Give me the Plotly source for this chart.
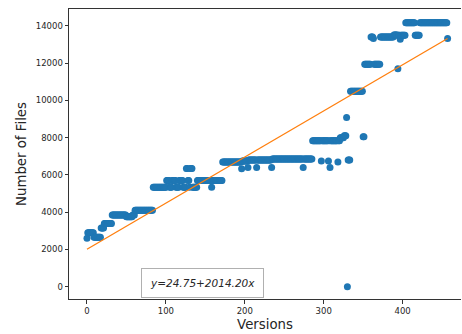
import numpy as np
import plotly.graph_objects as go

# Run-length description of file counts per version
levels = [2600, 2900, 2650, 3150, 3400, 3850, 3750, 3850, 4100,
          5340,
          5700, 5340, 5700, 5340, 5700, 5340, 6350, 5700, 5340, 6350, 5340,
          5700, 5340, 5700,
          6700, 6330, 6750, 6400, 6800, 6400, 6800, 6400, 6850, 6400, 6850,
          7840, 6750, 7840, 6750, 7840, 6400, 7840, 6700, 7840,
          8000, 8100, 9080, 0, 6800, 10500, 8050, 11950, 13400, 13330, 11950,
          13400, 13520, 11700, 13500, 13280, 13500, 14170, 13500, 14170, 13330]
counts = [1, 8, 9, 4, 10, 18, 8, 3, 23,
          17,
          4, 3, 5, 4, 5, 4, 2, 2, 1, 3, 6,
          18, 1, 13,
          24, 1, 7, 1, 10, 1, 18, 1, 39, 1, 11,
          11, 1, 8, 1, 1, 1, 9, 1, 2,
          5, 3, 1, 1, 3, 16, 2, 8, 3, 1, 8,
          17, 5, 1, 2, 1, 6, 12, 6, 35, 1]

files = np.repeat(levels, counts)
versions = np.arange(len(files))

# Fitted line coefficients shown in the label
slope = 24.75
intercept = 2014.20
fit = intercept + slope * versions

fig = go.Figure()
fig.add_trace(go.Scatter(x=versions, y=files, mode="markers",
                         marker=dict(color="#1f77b4", size=7, line=dict(width=0)),
                         showlegend=False))
fig.add_trace(go.Scatter(x=versions, y=fit, mode="lines",
                         line=dict(color="#ff7f0e", width=1.3),
                         showlegend=False))

axis_common = dict(showgrid=False, zeroline=False, showline=True, linecolor="#333333",
                   linewidth=1, ticks="outside", ticklen=3.5, tickwidth=0.8,
                   tickcolor="#333333",
                   tickfont=dict(family="DejaVu Sans", size=8.5, color="#262626"))

fig.update_layout(
    width=462, height=334,
    margin=dict(l=69, r=1, t=9, b=35),
    plot_bgcolor="white", paper_bgcolor="white",
    font=dict(family="DejaVu Sans"),
    xaxis=dict(range=[-22.8, 474], tickvals=[0, 100, 200, 300, 400], mirror=True,
               title=dict(text="Versions", font=dict(size=13.3, color="#262626"), standoff=4),
               **axis_common),
    yaxis=dict(range=[-660, 14910], tickvals=[0, 2000, 4000, 6000, 8000, 10000, 12000, 14000],
               tickformat="d", mirror=False,
               title=dict(text="Number of Files", font=dict(size=13.3, color="#262626"), standoff=6),
               **axis_common),
    annotations=[dict(
        text=f"<i>y={slope:.2f}+{intercept:.2f}x</i>",
        xref="paper", yref="paper", x=0.341, y=0.0552,
        xanchor="center", yanchor="middle", showarrow=False,
        font=dict(family="DejaVu Sans", size=10.5, color="#262626"),
        bordercolor="#b0b0b0", borderwidth=1, borderpad=8, bgcolor="white")]
)

fig.write_html("out.html")
